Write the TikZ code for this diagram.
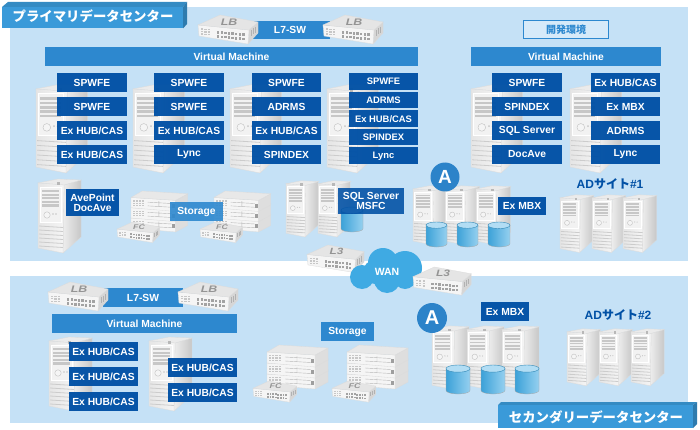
\documentclass[tikz,border=0pt]{standalone}
\usepackage{fontspec}
\setmainfont{Liberation Sans}
\newfontfamily\cjkf{Noto Sans CJK JP}
\definecolor{panel}{HTML}{C5E1F6}
\definecolor{navy}{HTML}{0050A5}
\definecolor{midblue}{HTML}{2D88CF}
\definecolor{titleblue}{HTML}{3A9AD9}
\definecolor{cloudblue}{HTML}{3FAAE3}
\definecolor{circblue}{HTML}{2C83C9}
\tikzset{
  lab/.style={fill=navy,fill opacity=.96,text opacity=1,text=white,font=\bfseries\fontsize{10.3}{11}\selectfont,inner sep=0pt,align=center},
  smalllab/.style={lab,font=\bfseries\fontsize{9.4}{10}\selectfont},
  bar/.style={lab,fill=midblue,fill opacity=1},
  panelbox/.style={fill=panel,draw=none},
  heading/.style={text=white,font=\cjkf\bfseries\fontsize{13.4}{14}\selectfont,inner sep=0pt},
  adtitle/.style={text=navy,inner sep=0pt,font=\bfseries\fontsize{12}{13}\selectfont},
  slat/.style={draw=black!20,line width=.8pt},
  thinedge/.style={draw=black!14,line width=.3pt}
}
\newcommand\boxlab[7]{%
  \pgfmathsetmacro\bw{#4-#2}\pgfmathsetmacro\bh{#5-#3}%
  \pgfmathsetmacro\bx{(#2+#4)/2}\pgfmathsetmacro\by{(#3+#5)/2}%
  \node[#6,minimum width=\bw pt,minimum height=\bh pt] (#1) at (\bx,\by) {#7};}
\newcommand\srvr[3]{%
 \begin{scope}[shift={(#1,#2)},scale=#3]
  \path[left color=black!7,right color=black!22,thinedge] (26,7) -- (43,2) -- (43,59) -- (25,75) -- cycle;
  \path[fill=black!8,thinedge] (0,5) -- (20,1) -- (43,2) -- (26,7) -- cycle;
  \path[left color=black!10,right color=black!4,thinedge] (0,5) -- (26,7) -- (25,75) -- (0,70) -- cycle;
  \draw[white,line width=.7pt,fill=black!5] (2,9) rectangle (23,44);
  \fill[black!28] (19,4.5) rectangle (22,7.5);
  \foreach \i in {0,...,4}{\fill[black!22] (3.5,{12+\i*3.6}) rectangle (21,{14.2+\i*3.6});}
  \draw[black!25,fill=black!4,line width=.4pt] (9,37) circle (3.2);
  \fill[black!22] (15,36) circle (.8) (18,36) circle (.8);
  \foreach \i in {0,...,5}{\draw[slat] (1,{48+\i*4}) -- (25,{49.5+\i*4});}
 \end{scope}}
\newcommand\swtch[4]{%
 \begin{scope}[shift={(#1,#2)},scale=#3]
  \path[fill=black!16,thinedge] (51,15) -- (60,7) -- (60,18) -- (50,29) -- cycle;
  \path[fill=black!4,thinedge] (0,10) -- (51,15) -- (50,29) -- (1,21) -- cycle;
  \path[fill=black!10,thinedge] (0,10) -- (22,0) -- (60,7) -- (51,15) -- cycle;
  \foreach \c in {0,...,7}{\foreach \r in {0,1}{\fill[black!36] ({19+\c*3.6},{16+\r*4.2+\c*.35}) rectangle +(2.4,2.6);}}
  \foreach \c in {0,1,2}{\foreach \r in {0,1,2}{\fill[black!22] ({3+\c*3.4},{13.5+\r*2.5+\c*.2}) rectangle +(2.2,1.4);}}
  \foreach \c in {0,1,2}{\draw[black!30,line width=.6pt] ({53+\c*2.2},{15-\c*1.5}) -- +(0,6);}
  \node[inner sep=0pt,text=black!42,font=\bfseries\itshape\fontsize{9.5}{10}\selectfont,transform shape,xscale=1.3] at (31,7) {#4};
 \end{scope}}
\newcommand\rackunit[1]{%
  \begin{scope}[shift={(0,#1)}]
  \path[fill=black!13,thinedge] (48,10) -- (61,3) -- (61,15) -- (48,22) -- cycle;
  \path[fill=black!4,thinedge] (0,7) -- (48,10) -- (48,22) -- (0,18) -- cycle;
  \path[fill=black!9,thinedge] (0,7) -- (12,0) -- (61,3) -- (48,10) -- cycle;
  \foreach \c in {0,...,3}{\foreach \r in {0,1,2}{\fill[black!22] ({2+\c*3.2},{10+\r*2.4}) rectangle +(2.1,1.3);}}
  \draw[black!28,line width=.4pt] (18,12) -- (44,13.5) (30,11) -- (30,17) (18,16) -- (44,17.5);
  \fill[black!38] (44,14) rectangle (47,18);
  \end{scope}}
\newcommand\rackstack[3]{%
 \begin{scope}[shift={(#1,#2)},scale=#3]
  \rackunit{22}\rackunit{11}\rackunit{0}
 \end{scope}}
\newcommand\cyl[4]{%
  \pgfmathsetmacro\cx{(#1+#3)/2}\pgfmathsetmacro\crx{(#3-#1)/2}\pgfmathsetmacro\cry{\crx*.3}%
  \path[left color=cloudblue!95!black,right color=cloudblue!55,draw=black!35,line width=.3pt]
     (#1,#2+\cry) -- (#1,#4-\cry) arc[start angle=180,end angle=360,x radius=\crx,y radius=-\cry] -- (#3,#2+\cry) -- cycle;
  \path[fill=cloudblue!40,draw=cloudblue!80!black,line width=.4pt] (\cx,#2+\cry) ellipse[x radius=\crx,y radius=\cry];}
\begin{document}
\begin{tikzpicture}[x=1pt,y=-1pt]
\useasboundingbox (0,0) rectangle (700,430);
\fill[white] (0,0) rectangle (700,430);
\path[panelbox] (10,7) rectangle (688,261);
\path[panelbox] (10,276) rectangle (688,423);

\boxlab{sevenA}{250}{21}{330}{39}{bar}{L7-SW}
\swtch{198}{15}{1}{LB}
\swtch{323}{15}{1}{LB}
\boxlab{vmA}{45}{47}{418}{66}{bar}{Virtual Machine}
\boxlab{vmB}{471}{47}{661}{66}{bar}{Virtual Machine}
\boxlab{dev}{523.5}{20.5}{608.5}{38.5}{draw=midblue,line width=1.3pt,fill=panel!70!white,text=midblue,font=\cjkf\bfseries\fontsize{10}{11}\selectfont,inner sep=0pt}{開発環境}

\srvr{36}{83}{1.2}\srvr{133}{83}{1.2}\srvr{230}{83}{1.2}\srvr{327}{83}{1.2}
\srvr{471}{83}{1.2}\srvr{570}{83}{1.2}

\boxlab{a1}{57}{73}{127}{92}{lab}{SPWFE}
\boxlab{a2}{57}{97}{127}{116}{lab}{SPWFE}
\boxlab{a3}{57}{121}{127}{140}{lab}{Ex HUB/CAS}
\boxlab{a4}{57}{145}{127}{164}{lab}{Ex HUB/CAS}
\boxlab{b1}{154}{73}{224}{92}{lab}{SPWFE}
\boxlab{b2}{154}{97}{224}{116}{lab}{SPWFE}
\boxlab{b3}{154}{121}{224}{140}{lab}{Ex HUB/CAS}
\boxlab{b4}{154}{145}{224}{164}{lab}{Lync}
\boxlab{c1}{252}{73}{321}{92}{lab}{SPWFE}
\boxlab{c2}{252}{97}{321}{116}{lab}{ADRMS}
\boxlab{c3}{252}{121}{321}{140}{lab}{Ex HUB/CAS}
\boxlab{c4}{252}{145}{321}{164}{lab}{SPINDEX}
\boxlab{d1}{349}{73}{418}{90}{smalllab}{SPWFE}
\boxlab{d2}{349}{92}{418}{108.5}{smalllab}{ADRMS}
\boxlab{d3}{349}{110.5}{418}{127}{smalllab}{Ex HUB/CAS}
\boxlab{d4}{349}{129}{418}{145.5}{smalllab}{SPINDEX}
\boxlab{d5}{349}{147.5}{418}{164}{smalllab}{Lync}
\boxlab{e1}{492}{73}{562}{92}{lab}{SPWFE}
\boxlab{e2}{492}{97}{562}{116}{lab}{SPINDEX}
\boxlab{e3}{492}{121}{562}{140}{lab}{SQL Server}
\boxlab{e4}{492}{145}{562}{164}{lab}{DocAve}
\boxlab{f1}{591}{73}{660}{92}{lab}{Ex HUB/CAS}
\boxlab{f2}{591}{97}{660}{116}{lab}{Ex MBX}
\boxlab{f3}{591}{121}{660}{140}{lab}{ADRMS}
\boxlab{f4}{591}{145}{660}{164}{lab}{Lync}

\srvr{38}{178}{1}
\boxlab{ave}{66}{189}{119}{216}{lab}{AvePoint\\[-1pt]DocAve}
\rackstack{131}{191}{.93}\rackstack{214}{191}{.93}
\swtch{117}{222}{.71}{FC}\swtch{200}{222}{.71}{FC}
\boxlab{stA}{170}{202}{223}{221}{bar,fill opacity=.9}{Storage}
\srvr{286}{180}{.76}\srvr{318}{180}{.76}
\cyl{341}{207}{363}{232}
\boxlab{sql}{338}{188}{404}{214}{lab,fill opacity=.88}{SQL Server\\[-1pt]MSFC}
\srvr{413}{185}{.8}\srvr{445}{185}{.8}\srvr{476}{185}{.8}
\cyl{426}{222}{447}{247}\cyl{457}{222}{478}{247}\cyl{488}{222}{510}{247}
\boxlab{mbxA}{498}{197}{546}{215}{lab}{Ex MBX}
\node[circle,fill=circblue,text=white,inner sep=0pt,minimum size=29pt,font=\bfseries\fontsize{19}{20}\selectfont] (circA) at (445,177) {A};
\node[adtitle] (adone) at (610,184) {AD{\cjkf\bfseries サイト}\#1};
\srvr{560}{194}{.78}\srvr{592}{194}{.78}\srvr{623}{194}{.78}

\boxlab{sevenB}{103}{288}{183}{307}{bar}{L7-SW}
\swtch{48}{282}{1}{LB}\swtch{178}{282}{1}{LB}
\boxlab{vmC}{52}{314}{237}{333}{bar}{Virtual Machine}
\srvr{49}{336}{1}\srvr{149}{336}{1}
\boxlab{g1}{69}{342}{138}{361}{lab}{Ex HUB/CAS}
\boxlab{g2}{69}{367}{138}{386}{lab}{Ex HUB/CAS}
\boxlab{g3}{69}{392}{138}{411}{lab}{Ex HUB/CAS}
\boxlab{h1}{168}{358}{237}{377}{lab}{Ex HUB/CAS}
\boxlab{h2}{168}{383}{237}{402}{lab}{Ex HUB/CAS}
\boxlab{stB}{321}{322}{374}{341}{bar}{Storage}
\rackstack{267}{345}{1}\rackstack{347}{345}{1}
\swtch{253}{381}{.73}{FC}\swtch{332}{381}{.73}{FC}
\boxlab{mbxB}{481}{302}{529}{321}{lab}{Ex MBX}
\srvr{432}{325}{.86}\srvr{467}{325}{.86}\srvr{502}{325}{.86}
\cyl{446}{365}{470}{394}\cyl{481}{365}{505}{394}\cyl{515}{365}{539}{394}
\node[circle,fill=circblue,text=white,inner sep=0pt,minimum size=30pt,font=\bfseries\fontsize{20}{21}\selectfont] (circB) at (432,318) {A};
\node[adtitle] (adtwo) at (618,315) {AD{\cjkf\bfseries サイト}\#2};
\srvr{567}{328}{.77}\srvr{599}{328}{.77}\srvr{631}{328}{.77}

\swtch{307}{245}{.95}{L3}
\fill[cloudblue] (383,263) circle (15) (405,268) circle (17) (362,277) circle (12) (387,280) circle (13) (405,278) circle (11) (375,272) circle (12);
\node[text=white,inner sep=0pt,font=\bfseries\fontsize{10.5}{11}\selectfont] (wan) at (387,272) {WAN};
\swtch{413}{267}{.97}{L3}

\fill[titleblue!90!black] (2,7) -- (8,2) -- (187,2) -- (183,7) -- cycle;
\fill[titleblue!80!black] (183,7) -- (187,2) -- (187,24) -- (183,28.5) -- cycle;
\fill[titleblue] (2,7) rectangle (183,28.5);
\node[heading] (tA) at (93,16.5) {プライマリデータセンター};
\fill[titleblue!90!black] (498,405) -- (501,402) -- (697,402) -- (693,405) -- cycle;
\fill[titleblue!80!black] (693,405) -- (697,402) -- (697,424) -- (693,428) -- cycle;
\fill[titleblue] (498,405) rectangle (693,428);
\node[heading] (tB) at (596,417) {セカンダリーデータセンター};
\end{tikzpicture}
\end{document}
